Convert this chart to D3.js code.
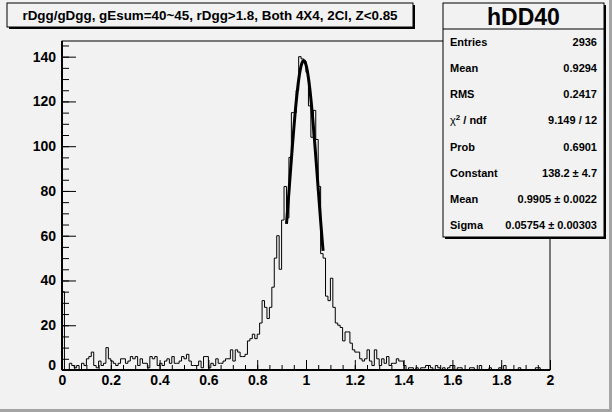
<!DOCTYPE html>
<html>
<head>
<meta charset="utf-8">
<script src="https://cdn.jsdelivr.net/npm/d3@7"></script>
<style>
  body { margin: 0; background: #f2f2f2; }
  svg { display: block; font-family: "Liberation Sans", Arial, sans-serif; font-weight: bold; }
</style>
</head>
<body>
<svg id="chart" width="612" height="412"></svg>
<script>
// histogram hDD40: 200 bins of 0.01 from 0 to 2
const counts = [
  35, 0, 0, 3, 2, 1, 2, 0, 3, 2,
  5, 6, 8, 2, 1, 4, 2, 3, 10, 5,
  4, 3, 2, 3, 5, 5, 3, 4, 6, 5,
  6, 2, 5, 3, 3, 1, 6, 5, 6, 2,
  3, 2, 4, 5, 3, 6, 3, 3, 4, 6,
  5, 7, 4, 2, 2, 2, 4, 1, 6, 6,
  1, 3, 2, 5, 3, 3, 4, 5, 5, 9,
  4, 9, 8, 6, 6, 7, 13, 14, 16, 14,
  16, 21, 31, 28, 23, 28, 37, 50, 60, 45,
  67, 82, 68, 95, 115, 115, 125, 140, 139, 138,
  133, 118, 104, 116, 103, 82, 52, 50, 33, 31,
  41, 28, 21, 20, 19, 13, 17, 17, 12, 9,
  8, 8, 5, 4, 5, 9, 4, 2, 9, 5,
  2, 5, 3, 6, 2, 3, 3, 5, 4, 4,
  2, 0, 1, 1, 0, 1, 0, 1, 1, 2,
  2, 1, 0, 2, 1, 0, 1, 0, 1, 2,
  2, 0, 1, 1, 0, 0, 0, 1, 1, 0,
  0, 2, 0, 0, 0, 1, 0, 0, 0, 1,
  0, 2, 0, 0, 0, 0, 0, 1, 0, 0,
  0, 0, 0, 0, 1, 1, 0, 0, 0, 0
];
const binWidth = 0.01;
const xMajor = [0, 0.2, 0.4, 0.6, 0.8, 1, 1.2, 1.4, 1.6, 1.8, 2];
const yMajor = [0, 20, 40, 60, 80, 100, 120, 140];

const titleText = "rDgg/gDgg, gEsum=40~45, rDgg>1.8, Both 4X4, 2Cl, Z<0.85";
const histName = "hDD40";
const statLabels = ["Entries", "Mean", "RMS", "χ2 / ndf", "Prob", "Constant", "Mean", "Sigma"];
const statValues = ["2936", "0.9294", "0.2417", "9.149 / 12", "0.6901", "138.2 ± 4.7", "0.9905 ± 0.0022", "0.05754 ± 0.00303"];

// gaussian fit from the stats box
const fitConst = 138.2, fitMean = 0.9905, fitSigma = 0.05754;
const fitRange = [0.92, 1.07];

const svg = d3.select("#chart");
const frame = { left: 62, right: 550, top: 41, bottom: 370 };

const x = d3.scaleLinear().domain([0, 2]).range([frame.left, frame.right]);
const y = d3.scaleLinear().domain([0, 147]).range([frame.bottom, frame.top]);

svg.append("rect").attr("width", 612).attr("height", 412).attr("fill", "#f2f2f2");
// canvas bevel
svg.append("rect").attr("x", 0).attr("y", 409).attr("width", 612).attr("height", 3).attr("fill", "#a4a4a4");
svg.append("rect").attr("x", 609).attr("y", 0).attr("width", 3).attr("height", 412).attr("fill", "#a4a4a4");

// frame
svg.append("rect")
  .attr("x", frame.left).attr("y", frame.top)
  .attr("width", frame.right - frame.left).attr("height", frame.bottom - frame.top)
  .attr("fill", "none").attr("stroke", "#000").attr("stroke-width", 1);

// histogram as a step line
const pts = counts.map((c, i) => [i * binWidth, c]);
pts.unshift([0, 0]);
pts.push([2, counts[counts.length - 1]]);
const step = d3.line().x(d => x(d[0])).y(d => y(d[1])).curve(d3.curveStepAfter);
svg.append("path")
  .attr("d", step(pts))
  .attr("fill", "none").attr("stroke", "#000").attr("stroke-width", 1);

// fit curve
const gaus = v => fitConst * Math.exp(-0.5 * Math.pow((v - fitMean) / fitSigma, 2));
const fitPts = d3.range(fitRange[0], fitRange[1] + 1e-9, 0.0025).map(v => [v, gaus(v)]);
svg.append("path")
  .attr("d", d3.line().x(d => x(d[0])).y(d => y(d[1]))(fitPts))
  .attr("fill", "none").attr("stroke", "#000").attr("stroke-width", 3);

// x axis
const xMinor = d3.range(0, 2.0001, 0.05);
svg.append("g").attr("transform", `translate(0,${frame.bottom})`)
  .call(d3.axisBottom(x).tickValues(xMinor).tickSize(-5).tickFormat(""))
  .call(g => g.select(".domain").remove());
svg.append("g").attr("class", "xaxis").attr("transform", `translate(0,${frame.bottom})`)
  .call(d3.axisBottom(x).tickValues(xMajor).tickSize(-10).tickPadding(5).tickFormat(d3.format("")))
  .call(g => g.select(".domain").attr("stroke-width", 2).attr("d", `M${frame.left},0H${frame.right}`));

// y axis
const yMinor = d3.range(0, 146, 5);
svg.append("g").attr("transform", `translate(${frame.left},0)`)
  .call(d3.axisLeft(y).tickValues(yMinor).tickSize(-7).tickFormat(""))
  .call(g => g.select(".domain").remove());
svg.append("g").attr("class", "yaxis").attr("transform", `translate(${frame.left},0)`)
  .call(d3.axisLeft(y).tickValues(yMajor).tickSize(-14).tickPadding(6))
  .call(g => g.select(".domain").attr("stroke-width", 2).attr("d", `M0,${frame.bottom}V${frame.top}`));

svg.selectAll(".xaxis text, .yaxis text")
  .attr("font-family", '"Liberation Sans", Arial, sans-serif')
  .attr("font-weight", "bold").attr("font-size", 14).attr("fill", "#000");
svg.selectAll(".yaxis .tick").filter(d => d === 0).select("text").attr("dy", "-0.05em");
svg.selectAll("g.tick line").attr("stroke", "#000");

// title box
const tb = { x: 7, y: 3, w: 406, h: 24 };
svg.append("rect").attr("x", tb.x + 2).attr("y", tb.y + 2).attr("width", tb.w).attr("height", tb.h).attr("fill", "#000");
svg.append("rect").attr("x", tb.x).attr("y", tb.y).attr("width", tb.w).attr("height", tb.h)
  .attr("fill", "#f2f2f2").attr("stroke", "#000").attr("stroke-width", 1);
svg.append("text").attr("x", tb.x + tb.w / 2).attr("y", tb.y + 17)
  .attr("text-anchor", "middle").attr("font-size", 13.4).text(titleText);

// stats box
const sb = { x: 443, y: 3, w: 161, h: 234 };
svg.append("rect").attr("x", sb.x + 2).attr("y", sb.y + 2).attr("width", sb.w).attr("height", sb.h).attr("fill", "#000");
svg.append("rect").attr("x", sb.x).attr("y", sb.y).attr("width", sb.w).attr("height", sb.h)
  .attr("fill", "#f2f2f2").attr("stroke", "#000").attr("stroke-width", 1);
svg.append("line").attr("x1", sb.x).attr("x2", sb.x + sb.w).attr("y1", 29).attr("y2", 29).attr("stroke", "#000");
svg.append("text").attr("x", sb.x + sb.w / 2).attr("y", 25)
  .attr("text-anchor", "middle").attr("font-size", 23).text(histName);

const row = d3.scalePoint().domain(d3.range(statLabels.length)).range([42, 225]);
const rows = svg.append("g").attr("font-size", 11);
statLabels.forEach((lab, i) => {
  const t = rows.append("text").attr("x", sb.x + 7).attr("y", row(i) + 4);
  if (lab.startsWith("χ")) {
    t.append("tspan").attr("font-weight", "normal").text("χ");
    t.append("tspan").attr("font-size", 8).attr("dy", -4).text("2");
    t.append("tspan").attr("dy", 4).text(" / ndf");
  } else {
    t.text(lab);
  }
  rows.append("text").attr("x", sb.x + sb.w - 7).attr("y", row(i) + 4)
    .attr("text-anchor", "end").text(statValues[i]);
});
</script>
</body>
</html>
